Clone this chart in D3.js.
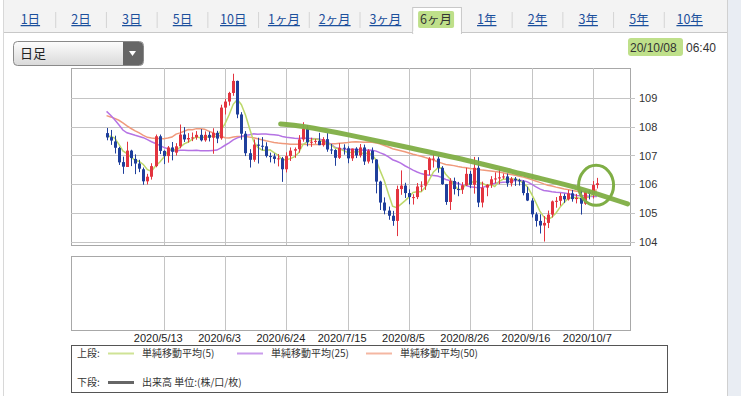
<!DOCTYPE html>
<html>
<head>
<meta charset="utf-8">
<script src="https://cdn.jsdelivr.net/npm/d3@7"></script>
<style>
  html, body { margin: 0; padding: 0; background: #fff; }
  svg { display: block; }
  text { font-family: "Liberation Sans", Arial, sans-serif; }
  .jp { font-family: "Noto Sans CJK JP", sans-serif; }
</style>
</head>
<body>
<svg id="chart" width="741" height="396"></svg>
<script>
// period tabs
const tabs = ["1日", "2日", "3日", "5日", "10日", "1ヶ月", "2ヶ月", "3ヶ月", "6ヶ月", "1年", "2年", "3年", "5年", "10年"];
const selectedTab = "6ヶ月";

// x axis labels (trading days)
const tickLabels = ["2020/5/13", "2020/6/3", "2020/6/24", "2020/7/15", "2020/8/5", "2020/8/26", "2020/9/16", "2020/10/7"];
const yTicks = [104, 105, 106, 107, 108, 109];

// daily candles 2020/4/23 .. 2020/10/8 (weekdays)
const open = [107.78,107.64,107.49,107.26,106.77,106.60,107.17,106.88,106.72,106.52,106.10,106.26,106.63,107.67,107.16,106.98,107.28,107.10,107.32,107.73,107.56,107.61,107.63,107.72,107.53,107.72,107.62,107.79,107.60,108.67,108.88,109.18,109.60,108.43,107.76,107.08,106.85,107.38,107.34,107.32,106.98,106.97,106.88,106.90,106.52,106.98,107.17,107.22,107.56,107.93,107.46,107.48,107.51,107.36,107.57,107.21,107.19,106.92,107.27,107.25,106.90,107.24,107.00,107.28,106.79,107.17,106.86,106.09,105.36,105.08,104.90,104.72,105.83,105.95,105.69,105.55,105.55,105.92,105.95,106.49,106.89,106.89,106.57,106.00,105.38,106.11,105.83,105.81,105.96,106.36,105.98,106.57,105.36,105.88,105.98,106.17,106.20,106.24,106.27,106.03,106.19,106.14,106.10,105.69,105.43,104.95,104.72,104.56,104.65,104.94,105.40,105.42,105.59,105.47,105.68,105.48,105.52,105.32,105.73,105.67,105.97];
const high = [107.96,107.89,107.69,107.30,106.96,107.48,107.20,107.04,106.85,106.58,106.36,106.73,107.73,107.73,107.18,107.33,107.47,107.43,108.08,107.99,107.78,107.80,107.85,107.92,107.84,107.83,107.95,107.86,108.77,108.97,109.22,109.85,109.61,108.51,107.85,107.22,107.56,107.62,107.64,107.46,107.10,107.07,107.05,106.95,107.11,107.28,107.28,107.71,108.16,108.06,107.62,107.58,107.79,107.64,107.78,107.40,107.22,107.43,107.39,107.32,107.24,107.29,107.40,107.38,107.22,107.28,106.87,106.12,105.54,105.22,105.07,105.95,106.48,106.05,105.82,105.65,106.04,106.10,106.49,106.94,107.05,106.97,106.63,106.01,106.21,106.23,106.08,106.07,106.57,106.46,106.95,106.94,106.09,106.00,106.28,106.41,106.55,106.37,106.37,106.25,106.25,106.19,106.14,105.91,105.51,105.02,104.95,104.89,105.08,105.43,105.55,105.69,105.67,105.80,105.80,105.66,105.80,105.78,105.80,106.11,106.22];
const low = [107.53,107.37,107.07,106.67,106.36,106.60,106.63,106.35,106.42,105.98,105.99,106.16,106.59,107.05,106.70,106.75,106.83,107.00,107.25,107.47,107.45,107.50,107.55,107.49,107.48,107.49,107.06,107.43,107.55,108.43,108.74,109.08,108.30,107.55,106.98,106.58,106.78,106.72,107.18,106.93,106.76,106.72,106.62,106.08,106.41,106.81,106.92,107.10,107.48,107.32,107.30,107.41,107.36,107.31,107.13,107.05,106.64,106.88,107.03,106.73,106.81,106.91,106.93,106.67,106.72,106.73,105.68,105.10,104.95,104.76,104.55,104.19,105.63,105.52,105.30,105.29,105.48,105.75,105.80,106.32,106.58,106.40,105.98,105.28,105.10,105.64,105.58,105.66,105.94,105.86,105.67,105.20,105.19,105.58,105.87,106.03,106.00,106.18,105.91,105.92,105.94,105.95,105.61,105.41,104.84,104.52,104.28,104.00,104.47,104.84,105.18,105.25,105.35,105.43,105.39,105.33,104.94,105.28,105.47,105.50,105.85];
const close = [107.63,107.52,107.27,106.76,106.61,107.17,106.91,106.72,106.54,106.10,106.26,106.63,107.67,107.16,106.98,107.28,107.13,107.32,107.73,107.56,107.61,107.63,107.72,107.53,107.72,107.62,107.79,107.59,108.67,108.88,109.18,109.60,108.43,107.76,107.08,106.85,107.38,107.34,107.32,106.98,106.97,106.88,106.90,106.52,106.98,107.17,107.22,107.56,107.93,107.46,107.48,107.51,107.36,107.57,107.21,107.19,106.92,107.27,107.25,106.90,107.24,107.00,107.28,106.79,107.17,106.86,106.09,105.36,105.08,104.90,104.72,105.83,105.95,105.69,105.55,105.55,105.92,105.95,106.49,106.89,106.89,106.57,106.00,105.38,106.11,105.83,105.81,105.96,106.36,105.98,106.57,105.36,105.88,105.98,106.17,106.20,106.24,106.27,106.03,106.19,106.14,106.10,105.69,105.43,104.95,104.72,104.56,104.65,104.94,105.40,105.42,105.59,105.47,105.68,105.48,105.52,105.32,105.73,105.67,105.97,106.03];
// closes before the visible window (2/12 .. 4/22), only used for the moving averages
const priorCloses = [110.1,109.8,109.8,109.9,110.0,111.3,112.1,111.6,110.8,110.2,110.4,109.6,107.9,108.3,107.2,107.5,106.1,105.3,102.3,105.6,104.6,104.6,107.9,106.0,107.7,108.7,110.7,110.8,111.2,111.2,111.2,109.6,108.0,107.8,107.5,107.2,107.9,108.5,109.2,108.8,108.8,108.5,108.5,107.8,107.2,107.5,107.9,107.5,107.6,107.8,107.8];

const maPeriods = [5, 25, 50];
const maColors = {5: "#bcd86a", 25: "#b573e4", 50: "#f09a7c"};
const maNames = {5: "単純移動平均(5)", 25: "単純移動平均(25)", 50: "単純移動平均(50)"};

// hand drawn note on the picture, in (day index, price)
const trendNote = [[42.6,108.10],[47.3,108.05],[59.5,107.72],[71.7,107.34],[88.1,106.85],[104.2,106.26],[115.7,105.88],[127.5,105.31]];
const circleNote = {i: 119.8, price: 105.96};

const dates = d3.timeDay.range(new Date(2020, 3, 23), new Date(2020, 9, 9)).filter(d => d.getDay() % 6 !== 0);
const fmt = d3.timeFormat("%Y/%-m/%-d");

const svg = d3.select("#chart");

// --- frame & tabs ---
svg.append("rect").attr("x", 0).attr("y", 0).attr("width", 741).attr("height", 396).attr("fill", "#fff");
svg.append("rect").attr("x", 728).attr("y", 0).attr("width", 13).attr("height", 396).attr("fill", "#e9edf3");
svg.append("rect").attr("x", 3).attr("y", 0).attr("width", 724).attr("height", 32).attr("fill", "#f3f3f3");
svg.append("line").attr("x1", 3).attr("x2", 727).attr("y1", 32.5).attr("y2", 32.5).attr("stroke", "#c8c8c8");
svg.append("line").attr("x1", 727.5).attr("x2", 727.5).attr("y1", 0).attr("y2", 396).attr("stroke", "#d0d0d0");
svg.append("line").attr("x1", 3.5).attr("x2", 3.5).attr("y1", 0).attr("y2", 396).attr("stroke", "#d8d8d8");

const tabX = d3.scaleBand().domain(tabs).range([5, 715]);
const tabG = svg.append("g");
tabs.forEach((t, k) => {
  const cx = tabX(t) + tabX.bandwidth() / 2;
  if (t === selectedTab) {
    tabG.append("rect").attr("x", tabX(t) + 2).attr("y", 7.5).attr("width", tabX.bandwidth() - 2).attr("height", 26)
      .attr("fill", "#fff").attr("stroke", "#c8c8c8");
    tabG.append("rect").attr("x", tabX(t) + 2.5).attr("y", 31).attr("width", tabX.bandwidth() - 3).attr("height", 3).attr("fill", "#fff");
    tabG.append("rect").attr("x", cx - 18).attr("y", 11).attr("width", 36).attr("height", 17).attr("fill", "#bfe08a").attr("rx", 2);
  } else if (k > 0 && tabs[k - 1] !== selectedTab) {
    tabG.append("line").attr("x1", tabX(t)).attr("x2", tabX(t)).attr("y1", 12).attr("y2", 28).attr("stroke", "#d4d4d4");
  }
  tabG.append("text").attr("class", "jp").attr("x", cx).attr("y", 24).attr("text-anchor", "middle")
    .attr("font-size", 12.5).attr("fill", t === selectedTab ? "#333" : "#1b4f9c")
    .attr("text-decoration", t === selectedTab ? "none" : "underline").text(t);
});

// dropdown
const dd = svg.append("g");
const grad = svg.append("defs").append("linearGradient").attr("id", "ddg").attr("x1", 0).attr("x2", 0).attr("y1", 0).attr("y2", 1);
grad.append("stop").attr("offset", 0).attr("stop-color", "#fdfdfd");
grad.append("stop").attr("offset", 1).attr("stop-color", "#d9d9d9");
dd.append("rect").attr("x", 13.5).attr("y", 41.5).attr("width", 130).attr("height", 24).attr("rx", 4).attr("fill", "url(#ddg)").attr("stroke", "#8a8a8a");
dd.append("path").attr("d", "M123,42 h16 a4,4 0 0 1 4,4 v15 a4,4 0 0 1 -4,4 h-16 z").attr("fill", "#666");
dd.append("path").attr("d", "M129,51 h7 l-3.5,5 z").attr("fill", "#fff");
dd.append("text").attr("class", "jp").attr("x", 20).attr("y", 58).attr("font-size", 13).attr("fill", "#222").text("日足");

// timestamp
svg.append("rect").attr("x", 628).attr("y", 38).attr("width", 55).attr("height", 18).attr("fill", "#bfe08a").attr("rx", 3);
svg.append("text").attr("x", 630).attr("y", 52).attr("font-size", 12).attr("fill", "#333").text("20/10/08");
svg.append("text").attr("x", 686).attr("y", 52).attr("font-size", 12).attr("fill", "#333").text("06:40");

// --- scales ---
const left = 71, right = 630;
const mainTop = 68, mainBottom = 245;
const subTop = 256, subBottom = 330;
const x = d3.scaleLinear().domain([-8.7, 128.1]).range([left, right]);
const y = d3.scaleLinear().domain([103.88, 110.05]).range([mainBottom, mainTop]);
const tickIdx = tickLabels.map(l => dates.findIndex(d => fmt(d) === l));

// panels
[[mainTop, mainBottom], [subTop, subBottom]].forEach(([t, b]) => {
  svg.append("rect").attr("x", left + 0.5).attr("y", t + 0.5).attr("width", right - left).attr("height", b - t)
    .attr("fill", "#fff").attr("stroke", "#a8a8a8");
  svg.append("g").selectAll("line").data(tickIdx).join("line")
    .attr("x1", d => Math.round(x(d)) + 0.5).attr("x2", d => Math.round(x(d)) + 0.5)
    .attr("y1", t).attr("y2", b).attr("stroke", "#c4c4c4");
});
svg.append("g").selectAll("line").data(yTicks).join("line")
  .attr("x1", left).attr("x2", right + 5)
  .attr("y1", d => Math.round(y(d)) + 0.5).attr("y2", d => Math.round(y(d)) + 0.5).attr("stroke", "#c4c4c4");

const yAxis = svg.append("g").attr("transform", `translate(${right},0)`)
  .call(d3.axisRight(y).tickValues(yTicks).tickSize(0).tickPadding(9).tickFormat(d3.format("d")));
yAxis.select(".domain").remove();
yAxis.selectAll("text").attr("font-size", 11).attr("fill", "#333").attr("font-family", "Liberation Sans, Arial");

const xAxis = svg.append("g").attr("transform", `translate(0,${subBottom})`)
  .call(d3.axisBottom(x).tickValues(tickIdx).tickSize(0).tickPadding(4).tickFormat((d, k) => tickLabels[k]));
xAxis.select(".domain").remove();
xAxis.selectAll("text").attr("font-size", 11).attr("fill", "#222").attr("font-family", "DejaVu Sans Condensed, Liberation Sans")
  .attr("dx", -6);

// --- moving averages ---
const allCloses = priorCloses.concat(close);
const off = priorCloses.length;
const maLine = d3.line().x(d => x(d[0])).y(d => y(d[1])).curve(d3.curveLinear);
const plot = svg.append("g");
[50, 25, 5].forEach(n => {
  const pts = close.map((c, i) => [i, d3.mean(allCloses.slice(off + i - n + 1, off + i + 1))]);
  plot.append("path").attr("d", maLine(pts)).attr("fill", "none").attr("stroke", maColors[n]).attr("stroke-width", 1.5);
});

// --- candles ---
const candles = plot.append("g").selectAll("g").data(close.map((c, i) => i)).join("g");
const colorOf = i => close[i] >= open[i] ? "#e3343f" : "#1f3f9c";
candles.append("line")
  .attr("x1", i => Math.round(x(i)) + 0.5).attr("x2", i => Math.round(x(i)) + 0.5)
  .attr("y1", i => y(high[i])).attr("y2", i => y(low[i])).attr("stroke", colorOf);
candles.append("rect")
  .attr("x", i => Math.round(x(i)) - 1).attr("width", 3)
  .attr("y", i => y(Math.max(open[i], close[i])))
  .attr("height", i => Math.max(1, Math.abs(y(open[i]) - y(close[i]))))
  .attr("fill", colorOf);

// --- hand drawn notes ---
const noteColor = "#7fae45";
svg.append("path").attr("d", d3.line().x(d => x(d[0])).y(d => y(d[1])).curve(d3.curveBasis)(trendNote))
  .attr("fill", "none").attr("stroke", noteColor).attr("stroke-width", 5).attr("stroke-linecap", "round").attr("opacity", 0.95);
svg.append("ellipse").attr("cx", x(circleNote.i)).attr("cy", y(circleNote.price)).attr("rx", 17.5).attr("ry", 20)
  .attr("fill", "none").attr("stroke", noteColor).attr("stroke-width", 3);

// --- legend ---
const lg = svg.append("g");
lg.append("rect").attr("x", 71.5).attr("y", 345.5).attr("width", 596).attr("height", 47).attr("fill", "#fff").attr("stroke", "#555");
lg.append("text").attr("class", "jp").attr("x", 77).attr("y", 357).attr("font-size", 10).attr("fill", "#333").text("上段:");
const legX = d3.scalePoint().domain(maPeriods).range([108, 366]);
maPeriods.forEach(n => {
  lg.append("line").attr("x1", legX(n)).attr("x2", legX(n) + 26).attr("y1", 353.5).attr("y2", 353.5)
    .attr("stroke", maColors[n]).attr("stroke-width", 2).attr("opacity", 0.7);
  lg.append("text").attr("class", "jp").attr("x", legX(n) + 34).attr("y", 357).attr("font-size", 10).attr("fill", "#333").text(maNames[n]);
});
lg.append("text").attr("class", "jp").attr("x", 77).attr("y", 386).attr("font-size", 10).attr("fill", "#333").text("下段:");
lg.append("line").attr("x1", 108).attr("x2", 134).attr("y1", 382.5).attr("y2", 382.5).attr("stroke", "#666").attr("stroke-width", 3);
lg.append("text").attr("class", "jp").attr("x", 142).attr("y", 386).attr("font-size", 10).attr("fill", "#333").text("出来高 単位:(株/口/枚)");
</script>
</body>
</html>
